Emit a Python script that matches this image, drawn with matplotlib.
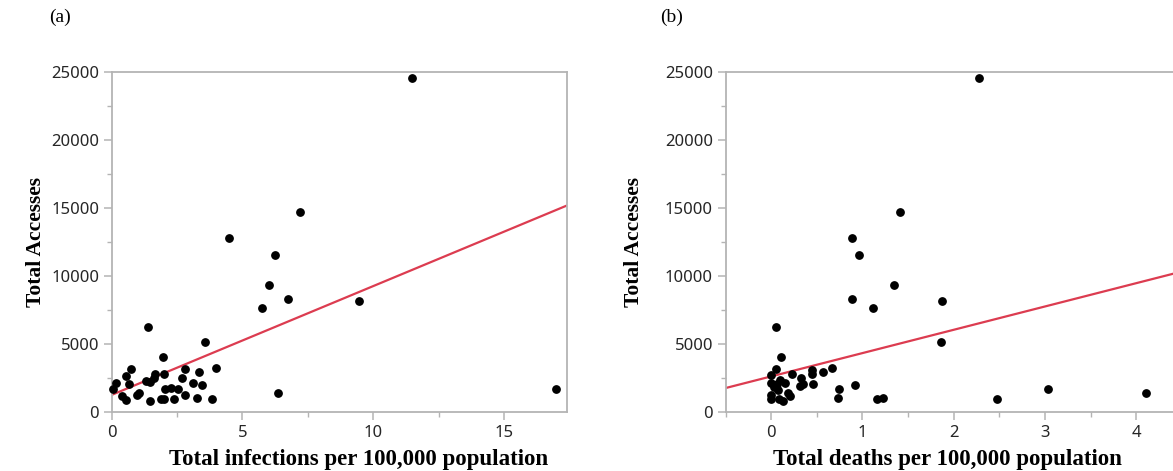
import numpy as np
import matplotlib.pyplot as plt
from matplotlib.ticker import MultipleLocator

# panel (a): infections vs accesses
infections = [11.5, 7.2, 4.5, 6.25, 6.0, 6.75, 5.75, 9.45, 17.0, 6.35,
              1.4, 3.55, 1.95, 4.0, 2.8, 3.35, 2.0, 1.65, 0.75, 0.55,
              1.3, 1.45, 1.6, 2.7, 3.1, 3.45, 0.15, 0.05, 0.65, 2.05,
              2.25, 2.55, 0.95, 1.05, 0.4, 0.55, 1.45, 1.9, 2.0, 2.4,
              2.8, 3.25, 3.85]
accesses_a = [24600, 14750, 12800, 11600, 9350, 8300, 7700, 8150, 1700, 1400,
              6250, 5200, 4050, 3250, 3150, 2950, 2850, 2800, 3150, 2700,
              2300, 2250, 2500, 2500, 2150, 2000, 2150, 1750, 2050, 1750,
              1800, 1700, 1250, 1400, 1200, 900, 800, 1000, 1000, 1000,
              1250, 1050, 1000]

# panel (b): deaths vs accesses
deaths = [2.28, 1.41, 0.88, 0.96, 1.34, 0.88, 1.12, 1.87, 1.86, 0.055,
          0.105, 0.67, 0.57, 0.45, 0.45, 0.46, 0.33, 0.35, 0.32, 0.23,
          0.05, 0.0, 0.0, 0.1, 0.15, 0.06, 0.08, 0.03, 0.18, 0.21,
          0.0, 0.0, 0.09, 0.135, 0.74, 0.73, 0.92, 1.16, 1.22, 2.47,
          3.03, 4.1]
accesses_b = [24600, 14750, 12800, 11600, 9350, 8300, 7700, 8150, 5200, 6250,
              4050, 3250, 2950, 3100, 2850, 2100, 2500, 2050, 1900, 2800,
              3150, 2750, 2150, 2400, 2150, 2050, 1650, 1850, 1400, 1200,
              1250, 950, 1000, 800, 1700, 1050, 2000, 1000, 1050, 1000,
              1700, 1400]

# fitted trend lines (slope, intercept)
fit_a = (800, 1280)
fit_b = (1715, 2640)

RED = '#dc3c50'
SPINE = '#b4b4b4'
TICKCOL = '#262626'
SERIF = 'Liberation Serif'
SANS = 'Noto Sans'


def style(ax, xlim, xmajor, xminor, right_spine=True):
	ax.set_xlim(*xlim)
	ax.set_ylim(0, 25000)
	ax.xaxis.set_major_locator(MultipleLocator(xmajor))
	ax.xaxis.set_minor_locator(MultipleLocator(xminor))
	ax.yaxis.set_major_locator(MultipleLocator(5000))
	ax.yaxis.set_minor_locator(MultipleLocator(2500))
	for s in ax.spines.values():
		s.set_color(SPINE)
		s.set_linewidth(1.3)
	ax.spines['right'].set_visible(right_spine)
	ax.tick_params(which='major', length=6, width=1.1, color=SPINE,
				   labelsize=12, labelcolor=TICKCOL, pad=3)
	ax.tick_params(which='minor', length=3.5, width=1.0, color=SPINE)
	for lab in ax.get_xticklabels() + ax.get_yticklabels():
		lab.set_fontfamily(SANS)


def main():
	fig = plt.figure(figsize=(11.73, 4.71), dpi=100)
	ax1 = fig.add_axes([0.0952, 0.1246, 0.3884, 0.7219])
	ax2 = fig.add_axes([0.6185, 0.1246, 0.3815, 0.7219])

	for ax, x, y, fit, xlim in [(ax1, infections, accesses_a, fit_a, (0, 17.42)),
								(ax2, deaths, accesses_b, fit_b, (-0.5, 4.4))]:
		xs = np.array(xlim)
		ax.plot(xs, fit[0] * xs + fit[1], color=RED, lw=1.6, zorder=2)
		ax.scatter(x, y, s=28, color='black', zorder=3, clip_on=False)

	style(ax1, (0, 17.42), 5, 2.5)
	style(ax2, (-0.5, 4.4), 1, 0.5, right_spine=False)

	xlab = dict(fontfamily=SERIF, fontweight='bold', fontsize=16.5)
	ylab = dict(fontfamily=SERIF, fontweight='bold', fontsize=15.5)
	ax1.set_xlabel('Total infections per 100,000 population', **xlab)
	ax2.set_xlabel('Total deaths per 100,000 population', **xlab)
	ax1.xaxis.set_label_coords(0.543, -0.108)
	ax2.xaxis.set_label_coords(0.495, -0.108)
	ax1.set_ylabel('Total Accesses', labelpad=4, **ylab)
	ax2.set_ylabel('Total Accesses', labelpad=15, **ylab)

	fig.text(60 / 1173, 1 - 17 / 471, '(a)', fontfamily=SERIF, fontsize=14,
			 ha='center', va='center')
	fig.text(672 / 1173, 1 - 17 / 471, '(b)', fontfamily=SERIF, fontsize=14,
			 ha='center', va='center')

	fig.savefig('out.png', dpi=100)


if __name__ == '__main__':
	main()
